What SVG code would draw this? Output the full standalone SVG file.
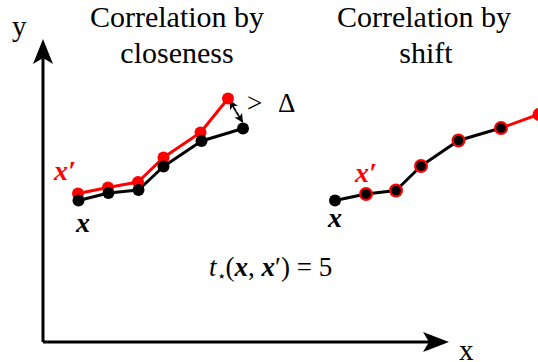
<svg xmlns="http://www.w3.org/2000/svg" width="538" height="362" viewBox="0 0 538 362">
<style>
text{font-family:'Times New Roman','Liberation Serif',serif}
.red{fill:#ff0000}
.blk{fill:#000}
.lr{fill:none;stroke:#ff0000;stroke-width:3;stroke-linejoin:round}
.lb{fill:none;stroke:#000;stroke-width:3;stroke-linejoin:round}
.axis{fill:none;stroke:#000;stroke-width:3}
</style>
<defs>
<marker id="ahe" viewBox="0 0 10 10" refX="9" refY="5" markerWidth="9" markerHeight="9" markerUnits="userSpaceOnUse" orient="auto">
<path d="M0,0 L10,5 L0,10 L2.5,5 Z" fill="#000"/>
</marker>
</defs>

<g id="axes">
<path class="axis" d="M43,342 V58 M43,342 H430"/>
<path d="M43,39 L53,64 L43,58 L33,64 Z" fill="#000"/>
<path d="M449,342 L423,332 L429,342 L423,352 Z" fill="#000"/>
<text x="12" y="36" font-size="29">y</text>
<text x="459" y="360" font-size="29">x</text>
</g>

<g id="titles">
<text x="177" y="27" font-size="30" text-anchor="middle">Correlation by</text>
<text x="177" y="63" font-size="30" text-anchor="middle">closeness</text>
<text x="424" y="27" font-size="30" text-anchor="middle">Correlation by</text>
<text x="426" y="63" font-size="30" text-anchor="middle">shift</text>
</g>

<g id="connectors">
<polyline class="lr" points="78,193.5 108,187.5 138,182 163.5,157.5 200.5,132.5 228,98.5"/>
<polyline class="lb" points="78.5,200.5 108.5,193 138.5,190 163.5,166.5 201.5,141 243,128.5"/>
<polyline class="lb" points="335,200.5 366,194 396,190.5 421,166 458.5,140.5 501,128"/>
<polyline class="lr" points="501,128 540,114"/>
<line x1="236" y1="111.5" x2="242.5" y2="122" stroke="#000" stroke-width="1.6" marker-end="url(#ahe)"/>
<line x1="236" y1="111.5" x2="230" y2="101" stroke="#000" stroke-width="1.6" marker-end="url(#ahe)"/>
</g>

<g id="left-series">
<g class="red">
<circle cx="78" cy="193.5" r="6"/>
<circle cx="108" cy="187.5" r="6"/>
<circle cx="138" cy="182" r="6"/>
<circle cx="163.5" cy="157.5" r="6"/>
<circle cx="200.5" cy="132.5" r="6"/>
<circle cx="228" cy="98.5" r="6"/>
</g>
<g class="blk">
<circle cx="78.5" cy="200.5" r="6"/>
<circle cx="108.5" cy="193" r="6"/>
<circle cx="138.5" cy="190" r="6"/>
<circle cx="163.5" cy="166.5" r="6"/>
<circle cx="201.5" cy="141" r="6"/>
<circle cx="243" cy="128.5" r="6"/>
</g>
<text x="54" y="180" font-size="28" font-weight="bold" font-style="italic" fill="#ff0000">x′</text>
<text x="76" y="232" font-size="28" font-weight="bold" font-style="italic" fill="#000">x</text>
<text x="247" y="112" font-size="27">&gt;</text>
<text x="278" y="112" font-size="27">Δ</text>
</g>

<g id="right-series">
<circle class="blk" cx="335" cy="200.5" r="6"/>
<g class="red">
<circle cx="366" cy="194" r="7"/>
<circle cx="396" cy="190.5" r="7"/>
<circle cx="421" cy="166" r="7"/>
<circle cx="458.5" cy="140.5" r="7"/>
<circle cx="501" cy="128" r="7"/>
<circle cx="539" cy="114.5" r="6.5"/>
</g>
<g class="blk">
<circle cx="366" cy="194" r="4.8"/>
<circle cx="396" cy="190.5" r="4.8"/>
<circle cx="421" cy="166" r="4.8"/>
<circle cx="458.5" cy="140.5" r="4.8"/>
<circle cx="501" cy="128" r="4.8"/>
</g>
<text x="355" y="182" font-size="28" font-weight="bold" font-style="italic" fill="#ff0000">x′</text>
<text x="328" y="227" font-size="28" font-weight="bold" font-style="italic" fill="#000">x</text>
</g>

<g id="formula">
<text x="209" y="276" font-size="27"><tspan font-style="italic">t</tspan><tspan font-size="15" dy="5">⋆</tspan><tspan dy="-5">(</tspan><tspan font-weight="bold" font-style="italic">x</tspan>, <tspan font-weight="bold" font-style="italic">x</tspan>′) = 5</text>
</g>
</svg>
